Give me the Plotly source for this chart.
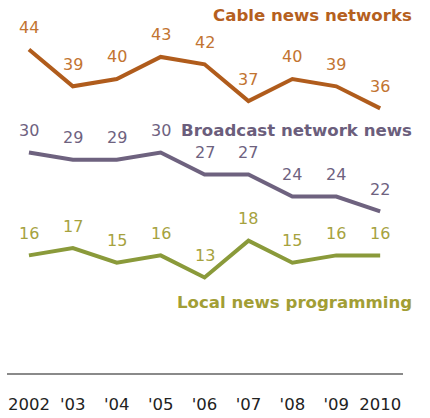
import plotly.graph_objects as go

years = [2002, 2003, 2004, 2005, 2006, 2007, 2008, 2009, 2010]
tick_labels = ["2002", "'03", "'04", "'05", "'06", "'07", "'08", "'09", "2010"]
cable = [44, 39, 40, 43, 42, 37, 40, 39, 36]
broadcast = [30, 29, 29, 30, 27, 27, 24, 24, 22]
local = [16, 17, 15, 16, 13, 18, 15, 16, 16]

series = [
    ("Cable news networks", cable, "#B05C1C", "#C27431", "#B5601E"),
    ("Broadcast network news", broadcast, "#6E627F", "#6E627F", "#6B5E7C"),
    ("Local news programming", local, "#8A9A3A", "#A6A23E", "#A29E35"),
]

FONT = "DejaVu Sans, Verdana, sans-serif"

fig = go.Figure()
annotations = []
for name, vals, lc, tc, nc in series:
    fig.add_trace(go.Scatter(x=years, y=vals, mode="lines",
                             line=dict(color=lc, width=4), name=name,
                             hoverinfo="skip"))
    for x, v in zip(years, vals):
        annotations.append(dict(x=x, y=v, text=str(v), showarrow=False,
                                yshift=22, xanchor="center", yanchor="middle",
                                font=dict(family=FONT, size=16, color=tc)))

# series name labels
name_y = [48.7, 33.0, 9.6]
for (name, vals, lc, tc, nc), ny in zip(series, name_y):
    annotations.append(dict(x=1.0, xref="paper", y=ny, yref="y", text=f"<b>{name}</b>",
                            showarrow=False, xanchor="right", yanchor="middle", xshift=11,
                            font=dict(family=FONT, size=16.6, color=nc)))

fig.update_layout(
    width=430, height=418,
    margin=dict(l=7, r=27, t=4, b=41),
    paper_bgcolor="white", plot_bgcolor="white",
    showlegend=False,
    annotations=annotations,
    xaxis=dict(range=[2001.5, 2010.52], tickvals=years, ticktext=tick_labels,
               showgrid=False, zeroline=False, showline=True, linecolor="#8a8a8a",
               linewidth=2, ticks="", ticklabelstandoff=15,
               tickfont=dict(family=FONT, size=16.5, color="#222222")),
    yaxis=dict(range=[0, 50.2], visible=False, showgrid=False, zeroline=False),
)

fig.write_html("out.html")
